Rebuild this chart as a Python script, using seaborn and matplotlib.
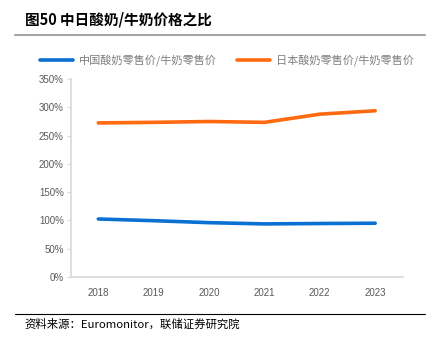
import matplotlib
matplotlib.use("Agg")
import matplotlib.pyplot as plt
import seaborn as sns
import pandas as pd
from matplotlib.lines import Line2D

years = ["2018", "2019", "2020", "2021", "2022", "2023"]
china = [102.5, 99.5, 96.0, 93.8, 94.5, 95.0]
japan = [272.5, 273.5, 275.0, 273.5, 288.0, 294.0]
labels = ["中国酸奶零售价/牛奶零售价", "日本酸奶零售价/牛奶零售价"]
yticks = [0, 50, 100, 150, 200, 250, 300, 350]
colors = ["#0A70D2", "#FF6A10"]

sns.set_theme(style="white")
plt.rcParams['font.family'] = ['Noto Sans CJK SC', 'DejaVu Sans']

df = pd.DataFrame({
    "year": years * 2,
    "value": china + japan,
    "series": [labels[0]] * len(years) + [labels[1]] * len(years),
})

fig = plt.figure(figsize=(4.36, 3.44), dpi=100)
ax = fig.add_axes([0.162, 0.195, 0.762, 0.575])
sns.lineplot(data=df, x="year", y="value", hue="series", palette=colors,
             linewidth=2.6, ax=ax, legend=False, sort=False)

ax.set_xlim(-0.5, 5.5)
ax.set_ylim(0, 350)
ax.set_yticks(yticks)
ax.set_yticklabels([f"{v}%" for v in yticks], fontfamily='Liberation Sans')
ax.set_xticks(range(len(years)))
ax.set_xticklabels(years, fontfamily='Liberation Sans')
ax.set_xlabel("")
ax.set_ylabel("")
for s in ["top", "right"]:
    ax.spines[s].set_visible(False)
for s in ["left", "bottom"]:
    ax.spines[s].set_color("#D9D9D9")
    ax.spines[s].set_linewidth(1.2)
ax.tick_params(axis="y", colors="#595959", labelsize=7, length=3, width=0.8,
               direction="out", left=True, pad=2)
ax.tick_params(axis="y", color="#D9D9D9")
ax.tick_params(axis="x", colors="#595959", labelsize=7, length=0, pad=8)

handles = [Line2D([0], [0], color=c, lw=2.6) for c in colors]
leg = fig.legend(handles, labels, loc="center", bbox_to_anchor=(0.52, 0.825),
                 ncol=2, frameon=False, fontsize=8, handlelength=3.0,
                 columnspacing=1.8, handletextpad=0.5)
for t in leg.get_texts():
    t.set_color("#7F7F7F")

fig.text(0.057, 0.942, "图50 中日酸奶/牛奶价格之比", fontsize=10.5, fontweight="bold",
         va="center", ha="left", color="#000000")
fig.add_artist(Line2D([0.035, 0.975], [0.898, 0.898], color="#A6A6A6", lw=1.5,
                      transform=fig.transFigure))
fig.add_artist(Line2D([0.035, 0.975], [0.087, 0.087], color="#000000", lw=0.8,
                      transform=fig.transFigure))
fig.text(0.057, 0.058, "资料来源：Euromonitor，联储证券研究院", fontsize=8.2,
         va="center", ha="left", color="#000000")

fig.savefig("out.png", dpi=100)
